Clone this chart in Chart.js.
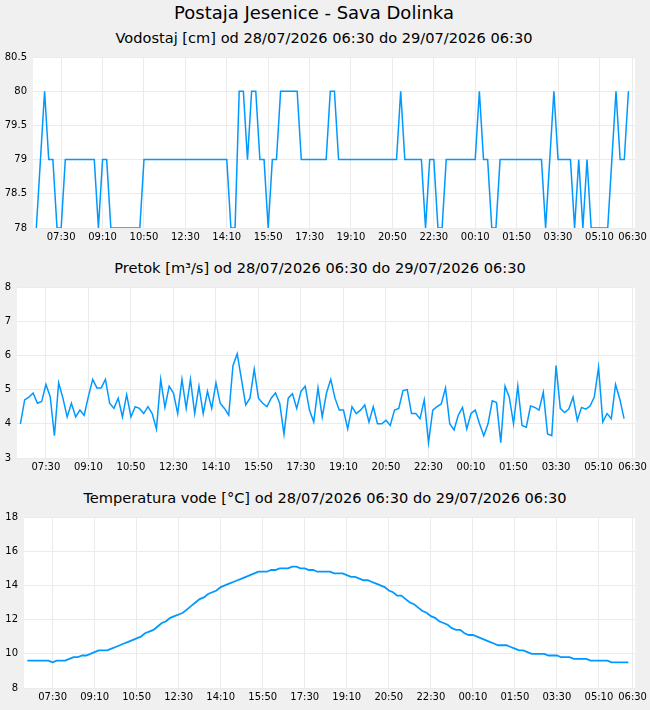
<!DOCTYPE html>
<html>
<head>
<meta charset="utf-8">
<script src="https://cdn.jsdelivr.net/npm/chart.js@4.4.1/dist/chart.umd.min.js"></script>
<style>
  body { margin: 0; background: #f0f0f0; width: 650px; height: 710px; overflow: hidden; position: relative; font-family: "DejaVu Sans", sans-serif; }
  .t { position: absolute; width: 650px; text-align: center; white-space: nowrap; color: #000; }
  #main { left: -11px; top: 2px; font-size: 18px; line-height: 22px; }
  .sub { font-size: 14.6px; line-height: 18px; }
  canvas { position: absolute; left: 0; }
</style>
</head>
<body>
<div class="t" id="main">Postaja Jesenice - Sava Dolinka</div>
<div class="t sub" style="left:-1px;top:29px">Vodostaj [cm] od 28/07/2026 06:30 do 29/07/2026 06:30</div>
<div class="t sub" style="left:-5px;top:259px">Pretok [m³/s] od 28/07/2026 06:30 do 29/07/2026 06:30</div>
<div class="t sub" style="left:0px;top:489px">Temperatura vode [°C] od 28/07/2026 06:30 do 29/07/2026 06:30</div>
<canvas id="c1" width="650" height="203" style="top:45px"></canvas>
<canvas id="c2" width="650" height="203" style="top:275px"></canvas>
<canvas id="c3" width="650" height="203" style="top:505px"></canvas>
<script>
// measurements every 10 minutes from 28/07 06:30
const stepMinutes = 10;
const startClock = "06:30";

const tickLabels = ["07:30", "09:10", "10:50", "12:30", "14:10", "15:50", "17:30", "19:10",
  "20:50", "22:30", "00:10", "01:50", "03:30", "05:10", "06:30"];

// Vodostaj [cm]
const vodostaj = [
  78, 79, 80, 79, 79, 78, 78,
  79, 79, 79, 79, 79, 79, 79, 79,
  78, 79, 79,
  78, 78, 78, 78, 78, 78, 78, 78,
  79, 79, 79, 79, 79, 79, 79, 79, 79, 79, 79, 79, 79, 79, 79, 79, 79, 79, 79, 79, 79,
  78, 78, 80, 80, 79, 80, 80, 79, 79, 78, 79, 79,
  80, 80, 80, 80, 80,
  79, 79, 79, 79, 79, 79, 79,
  80, 80,
  79, 79, 79, 79, 79, 79, 79, 79, 79, 79, 79, 79, 79, 79, 79,
  80,
  79, 79, 79, 79, 79,
  78, 79, 79, 78, 78,
  79, 79, 79, 79, 79, 79, 79, 79,
  80, 79, 79, 78, 78,
  79, 79, 79, 79, 79, 79, 79, 79, 79, 79, 79,
  78, 79, 80, 79, 79, 79, 79,
  78, 79, 78, 79,
  78, 78, 78, 78, 78,
  79, 80, 79, 79, 80
];

// Pretok [m3/s]
const pretok = [
  4.0, 4.7, 4.78, 4.9, 4.6, 4.65, 5.15, 4.8, 3.65, 5.2,
  4.75, 4.2, 4.6, 4.2, 4.4, 4.25, 4.8, 5.3, 5.05, 5.05,
  5.3, 4.6, 4.45, 4.75, 4.2, 4.85, 4.2, 4.5, 4.45, 4.3,
  4.5, 4.3, 3.85, 5.3, 4.48, 5.1, 4.9, 4.3, 5.3, 4.45,
  5.3, 4.3, 5.1, 4.3, 4.95, 4.45, 5.2, 4.6, 4.45, 4.25,
  5.7, 6.05, 5.3, 4.55, 4.75, 5.6, 4.75, 4.6, 4.5, 4.75,
  4.9, 4.6, 3.7, 4.75, 4.88, 4.45, 4.95, 5.1, 4.4, 4.05,
  5.05, 4.2, 4.9, 5.3, 4.75, 4.4, 4.4, 3.85, 4.5, 4.3,
  4.4, 4.55, 4.05, 4.5, 4.0, 4.0, 4.1, 3.95, 4.4, 4.45,
  4.97, 5.0, 4.3, 4.3, 4.15, 4.7, 3.45, 4.4, 4.5, 4.58,
  5.05, 4.0, 3.82, 4.25, 4.48, 3.85, 4.3, 4.4, 4.0, 3.65,
  4.0, 4.67, 4.62, 3.45, 5.1, 4.78, 4.0, 5.1, 3.95, 3.9,
  4.52, 4.48, 4.4, 4.92, 3.7, 3.65, 5.7, 4.45, 4.33, 4.43,
  4.78, 4.1, 4.48, 4.43, 4.52, 4.78, 5.65, 4.05, 4.3, 4.15,
  5.15, 4.72, 4.15
];

// Temperatura vode [°C]
const temperatura = [
  9.6, 9.6, 9.6, 9.6, 9.6, 9.6, 9.5, 9.6, 9.6, 9.6,
  9.7, 9.8, 9.8, 9.9, 9.9, 10.0, 10.1, 10.2, 10.2, 10.2,
  10.3, 10.4, 10.5, 10.6, 10.7, 10.8, 10.9, 11.0, 11.2, 11.3,
  11.4, 11.6, 11.8, 11.9, 12.1, 12.2, 12.3, 12.4, 12.6, 12.8,
  13.0, 13.2, 13.3, 13.5, 13.6, 13.7, 13.9, 14.0, 14.1, 14.2,
  14.3, 14.4, 14.5, 14.6, 14.7, 14.8, 14.8, 14.8, 14.9, 14.9,
  15.0, 15.0, 15.0, 15.1, 15.1, 15.0, 15.0, 14.9, 14.9, 14.8,
  14.8, 14.8, 14.8, 14.7, 14.7, 14.7, 14.6, 14.5, 14.5, 14.4,
  14.3, 14.3, 14.2, 14.1, 14.0, 13.9, 13.7, 13.6, 13.4, 13.4,
  13.2, 13.0, 12.9, 12.7, 12.5, 12.4, 12.2, 12.1, 11.9, 11.8,
  11.7, 11.5, 11.4, 11.4, 11.2, 11.1, 11.1, 11.0, 10.9, 10.8,
  10.7, 10.6, 10.5, 10.5, 10.5, 10.4, 10.3, 10.2, 10.2, 10.1,
  10.0, 10.0, 10.0, 10.0, 9.9, 9.9, 9.9, 9.8, 9.8, 9.8,
  9.7, 9.7, 9.7, 9.7, 9.6, 9.6, 9.6, 9.6, 9.6, 9.5,
  9.5, 9.5, 9.5, 9.5
];

function clockToMinutes(label) {
  const [h, m] = label.split(":").map(Number);
  const [sh, sm] = startClock.split(":").map(Number);
  let d = h * 60 + m - (sh * 60 + sm);
  if (d <= 0) d += 1440;
  return d;
}
const tickMinutes = tickLabels.map(clockToMinutes);

const tickFont = { family: "'DejaVu Sans', sans-serif", size: 10 };

const plotBackground = {
  id: "plotBackground",
  beforeDraw(chart) {
    const { ctx, chartArea: a } = chart;
    ctx.save();
    ctx.fillStyle = "#ffffff";
    ctx.fillRect(a.left, a.top, a.right - a.left, a.bottom - a.top);
    ctx.restore();
  }
};

function makeChart(id, values, yMin, yMax, yStep, yWidth, lineWidth) {
  return new Chart(document.getElementById(id), {
    type: "line",
    data: {
      datasets: [{
        data: values.map((v, i) => ({ x: i * stepMinutes, y: v })),
        borderColor: "#0099ff",
        borderWidth: lineWidth,
        pointRadius: 0,
        tension: 0,
        fill: false
      }]
    },
    options: {
      responsive: false,
      animation: false,
      events: [],
      layout: { autoPadding: false, padding: { top: 11, right: 7, left: 0, bottom: 0 } },
      plugins: { legend: { display: false }, tooltip: { enabled: false } },
      scales: {
        x: {
          type: "linear",
          min: -8,
          max: 1446,
          grid: { color: "#ebebeb", drawTicks: false },
          border: { display: false },
          afterBuildTicks: (s) => { s.ticks = tickMinutes.map((v) => ({ value: v })); },
          afterFit: (s) => { s.height = 20; },
          ticks: {
            autoSkip: false,
            maxRotation: 0,
            padding: 3,
            color: "#000",
            font: tickFont,
            callback: (v, i) => tickLabels[i]
          }
        },
        y: {
          min: yMin,
          max: yMax,
          grid: { color: "#ebebeb", drawTicks: false },
          border: { display: false },
          afterFit: (s) => { s.width = yWidth; },
          ticks: {
            stepSize: yStep,
            padding: 6,
            color: "#000",
            font: tickFont,
            callback: (v) => String(Number(v.toFixed(2)))
          }
        }
      }
    },
    plugins: [plotBackground]
  });
}

makeChart("c1", vodostaj, 78, 80.5, 0.5, 33, 1.5);
makeChart("c2", pretok, 3, 8, 1, 17, 1.5);
makeChart("c3", temperatura, 8, 18, 2, 24, 1.8);
</script>
</body>
</html>
